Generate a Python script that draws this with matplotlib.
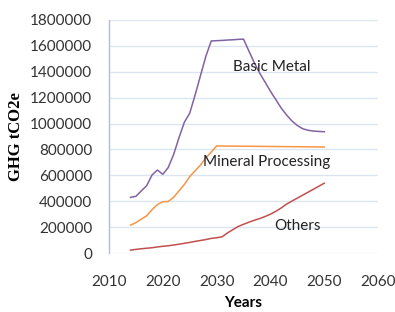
import matplotlib
matplotlib.use("Agg")
import matplotlib.pyplot as plt

# --- Data ---
years = list(range(2014, 2051))

basic_metal = [430000, 438000, 480000, 520000, 603000, 641000, 608000, 660000,
               760000, 890000, 1010000, 1080000, 1220000, 1370000, 1520000,
               1638000, 1640000, 1642000, 1645000, 1647000, 1650000, 1652000,
               1560000, 1470000, 1390000, 1320000, 1250000, 1185000, 1120000,
               1066000, 1020000, 985000, 960000, 948000, 942000, 939000, 937000]

mineral_processing = [216000, 235000, 262000, 288000, 335000, 375000, 396000,
                      398000, 430000, 480000, 530000, 590000, 635000, 680000,
                      735000, 780000, 827000, 826600, 826200, 825800, 825400,
                      825000, 824600, 824200, 823800, 823400, 823000, 822600,
                      822200, 821800, 821400, 821000, 820600, 820200, 819800,
                      819400, 819000]

others = [23000, 28000, 33000, 37000, 41000, 47000, 52000, 56000, 62000, 68000,
          75000, 82000, 90000, 97000, 104000, 113000, 118000, 125000, 155000,
          180000, 205000, 222000, 238000, 253000, 266000, 282000, 300000,
          322000, 348000, 378000, 401000, 424000, 447000, 470000, 493000,
          516000, 539000]

x_ticks = [2010, 2020, 2030, 2040, 2050, 2060]
y_ticks = [0, 200000, 400000, 600000, 800000, 1000000, 1200000, 1400000,
           1600000, 1800000]

# --- Figure ---
fig = plt.figure(figsize=(3.95, 3.12), dpi=100)
ax = fig.add_axes([0.276, 0.189, 0.681, 0.747])

ax.plot(years, basic_metal, color='#8064a2', linewidth=1.1)
ax.plot(years, mineral_processing, color='#f79646', linewidth=1.1)
ax.plot(years, others, color='#c0504d', linewidth=1.1)

ax.set_xlim(2010, 2060)
ax.set_ylim(0, 1800000)
ax.set_xticks(x_ticks)
ax.set_yticks(y_ticks)
ax.set_xticklabels([str(t) for t in x_ticks], family='Lato', fontsize=11, color='#333333')
ax.set_yticklabels([str(t) for t in y_ticks], family='Lato', fontsize=11, color='#333333')
ax.tick_params(axis='y', length=0, pad=12)
ax.tick_params(axis='x', length=0, pad=16)

ax.grid(True, axis='y', color='#dce6f2', linewidth=1.0)
ax.set_axisbelow(True)
for s in ['top', 'right', 'bottom']:
    ax.spines[s].set_visible(False)
ax.spines['left'].set_color('#a9c0e0')
ax.spines['left'].set_linewidth(1.0)

# series labels
ax.text(2033.0, 1437000, 'Basic Metal', family='Lato', fontsize=11, color='#222222', va='center')
ax.text(2027.5, 703000, 'Mineral Processing', family='Lato', fontsize=11, color='#222222', va='center')
ax.text(2040.7, 209000, 'Others', family='Lato', fontsize=11, color='#222222', va='center')

ax.set_xlabel('Years', family='Lato', fontsize=11, fontweight='bold', labelpad=5)
fig.text(0.04, 0.561, 'GHG tCO2e', family='Liberation Serif', fontsize=12,
         fontweight='bold', rotation=90, ha='center', va='center')

fig.savefig('out.png', dpi=100)
